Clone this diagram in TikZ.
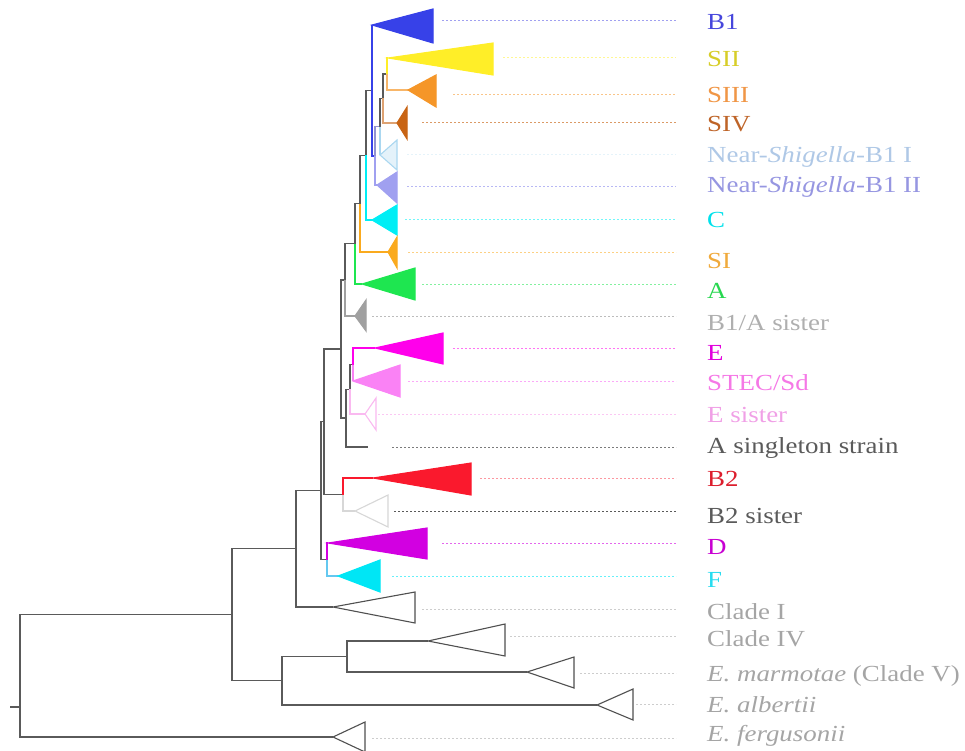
\documentclass[tikz,border=0pt]{standalone}
\usepackage{fontspec}
\setmainfont{Liberation Serif}[FakeStretch=1.17]
\definecolor{gline}{RGB}{90,90,90}
\definecolor{cBone}{RGB}{55,65,232}
\definecolor{lBone}{RGB}{70,70,220}
\definecolor{cSII}{RGB}{255,238,40}
\definecolor{lSII}{RGB}{215,205,40}
\definecolor{cSIII}{RGB}{245,150,40}
\definecolor{lSIII}{RGB}{240,150,70}
\definecolor{cSIV}{RGB}{200,100,20}
\definecolor{lSIV}{RGB}{190,100,40}
\definecolor{cNSI}{RGB}{170,215,240}
\definecolor{fNSI}{RGB}{228,242,250}
\definecolor{lNSI}{RGB}{175,200,230}
\definecolor{cNSII}{RGB}{160,160,240}
\definecolor{lNSII}{RGB}{150,150,225}
\definecolor{cC}{RGB}{0,238,245}
\definecolor{lC}{RGB}{0,225,235}
\definecolor{cSI}{RGB}{250,170,30}
\definecolor{lSI}{RGB}{240,170,60}
\definecolor{cA}{RGB}{30,230,80}
\definecolor{lA}{RGB}{40,215,80}
\definecolor{cBAs}{RGB}{160,160,160}
\definecolor{lBAs}{RGB}{175,175,175}
\definecolor{cE}{RGB}{255,0,235}
\definecolor{lE}{RGB}{225,0,220}
\definecolor{cSTEC}{RGB}{250,130,245}
\definecolor{lSTEC}{RGB}{245,120,230}
\definecolor{cEs}{RGB}{250,185,240}
\definecolor{lEs}{RGB}{240,160,230}
\definecolor{lSing}{RGB}{90,90,90}
\definecolor{cBtwo}{RGB}{250,25,45}
\definecolor{lBtwo}{RGB}{220,30,45}
\definecolor{cBtwos}{RGB}{215,215,215}
\definecolor{cD}{RGB}{210,0,225}
\definecolor{lD}{RGB}{200,0,210}
\definecolor{cF}{RGB}{0,230,245}
\definecolor{eF}{RGB}{100,200,240}
\definecolor{lF}{RGB}{40,220,240}
\definecolor{lOut}{RGB}{165,165,165}
\definecolor{cOut}{RGB}{80,80,80}
\definecolor{dOut}{RGB}{205,205,205}
\begin{document}
\begin{tikzpicture}[x=1pt,y=-1pt,
  edge/.style={line width=1.3pt, gline},
  dots/.style={line width=1pt, dash pattern=on 2pt off 2pt},
  lab/.style={anchor=base west, inner sep=0pt, font=\fontsize{23}{26}\selectfont},
  tri/.style={line width=1.1pt, line join=miter}]
\useasboundingbox (0,0) rectangle (965,751);
% ---- leaf apex coordinates
\coordinate (B1) at (372,25);
\coordinate (SII) at (388,58);
\coordinate (SIII) at (408,90);
\coordinate (SIV) at (397,123);
\coordinate (NSI) at (380,155);
\coordinate (NSII) at (377,185);
\coordinate (C) at (372,220);
\coordinate (SI) at (388,252);
\coordinate (A) at (362,284);
\coordinate (BAs) at (355,316);
\coordinate (E) at (375,348);
\coordinate (STEC) at (353,381);
\coordinate (Es) at (365,414);
\coordinate (Sing) at (368,447);
\coordinate (B2) at (373,478);
\coordinate (B2s) at (355,511);
\coordinate (D) at (328,543);
\coordinate (F) at (338,576);
\coordinate (CI) at (333,607);
\coordinate (CIV) at (428,641);
\coordinate (Marm) at (527,672);
\coordinate (Alb) at (597,705);
\coordinate (Ferg) at (333,737);
% ---- internal nodes
\coordinate (FF) at (387,74);
\coordinate (EE) at (383,98.5);
\coordinate (DD) at (380,126.75);
\coordinate (CC) at (375,156);
\coordinate (BB) at (372,90.5);
\coordinate (AA) at (366,155.25);
\coordinate (Z) at (360,203.6);
\coordinate (Y) at (355,243.8);
\coordinate (X) at (345,279.9);
\coordinate (V) at (353,364.5);
\coordinate (U) at (350,389.25);
\coordinate (T) at (346,418.1);
\coordinate (S) at (341,349);
\coordinate (Btn) at (343,494.5);
\coordinate (R) at (324,421.75);
\coordinate (DF) at (327,559.5);
\coordinate (Q) at (321,490.6);
\coordinate (P) at (296,548.8);
\coordinate (N) at (347,656.5);
\coordinate (M) at (282,680.75);
\coordinate (O) at (232,614.8);
\coordinate (Root) at (20,675.9);
\coordinate (Stub) at (10,707);
% ---- edges
\draw[edge] (Stub) -- (Stub -| Root);
\draw[edge] (Root) |- (O);
\draw[edge] (Root) |- (Ferg);
\draw[edge] (O) |- (P);
\draw[edge] (O) |- (M);
\draw[edge] (M) |- (N);
\draw[edge] (M) |- (Alb);
\draw[edge] (N) |- (CIV);
\draw[edge] (N) |- (Marm);
\draw[edge] (P) |- (Q);
\draw[edge] (P) |- (CI);
\draw[edge] (Q) |- (R);
\draw[edge] (Q) |- (DF);
\draw[edge, cD] (DF) |- (D);
\draw[edge, eF] (DF) |- (F);
\draw[edge] (R) |- (S);
\draw[edge] (R) |- (Btn);
\draw[edge, cBtwo] (Btn) |- (B2);
\draw[edge, cBtwos] (Btn) |- (B2s);
\draw[edge] (S) |- (X);
\draw[edge] (S) |- (T);
\draw[edge] (T) |- (U);
\draw[edge] (T) |- (Sing);
\draw[edge] (U) |- (V);
\draw[edge, cEs] (U) |- (Es);
\draw[edge, cE] (V) |- (E);
\draw[edge, cSTEC] (V) |- (STEC);
\draw[edge] (X) |- (Y);
\draw[edge, cBAs] (X) |- (BAs);
\draw[edge] (Y) |- (Z);
\draw[edge, cA] (Y) |- (A);
\draw[edge] (Z) |- (AA);
\draw[edge, cSI] (Z) |- (SI);
\draw[edge] (AA) |- (BB);
\draw[edge, cC] (AA) |- (C);
\draw[edge, cBone] (BB) |- (B1);
\draw[edge, cBone] (BB) |- (CC);
\draw[edge, cNSII!80!gline] (CC) |- (DD);
\draw[edge, cNSII] (CC) |- (NSII);
\draw[edge] (DD) |- (EE);
\draw[edge, cNSI] (DD) |- (NSI);
\draw[edge] (EE) |- (FF);
\draw[edge, cSIV!60!white] (EE) |- (SIV);
\draw[edge, cSII] (FF) |- (SII);
\draw[edge, cSIII!70!white] (FF) |- (SIII);
% ---- collapsed clades (triangles)
\filldraw[tri, fill=cBone, draw=cBone] (B1) -- (433,9) -- (433,43) -- cycle;
\filldraw[tri, fill=cSII, draw=cSII] (SII) -- (493,43) -- (493,75) -- cycle;
\filldraw[tri, fill=cSIII, draw=cSIII] (SIII) -- (436,75) -- (436,107) -- cycle;
\filldraw[tri, fill=cSIV, draw=cSIV] (SIV) -- (407,107) -- (407,139) -- cycle;
\filldraw[tri, fill=fNSI, draw=cNSI] (NSI) -- (397,140) -- (397,170) -- cycle;
\filldraw[tri, fill=cNSII, draw=cNSII] (NSII) -- (397,172) -- (397,203) -- cycle;
\filldraw[tri, fill=cC, draw=cC] (C) -- (397,205) -- (397,235) -- cycle;
\filldraw[tri, fill=cSI, draw=cSI] (SI) -- (397,237) -- (397,268) -- cycle;
\filldraw[tri, fill=cA, draw=cA] (A) -- (415,268) -- (415,300) -- cycle;
\filldraw[tri, fill=cBAs, draw=cBAs] (BAs) -- (366,300) -- (366,331) -- cycle;
\filldraw[tri, fill=cE, draw=cE] (E) -- (443,333) -- (443,364) -- cycle;
\filldraw[tri, fill=cSTEC, draw=cSTEC] (STEC) -- (400,365) -- (400,397) -- cycle;
\filldraw[tri, fill=white, draw=cEs] (Es) -- (376,398) -- (376,430) -- cycle;
\filldraw[tri, fill=cBtwo, draw=cBtwo] (B2) -- (471,463) -- (471,495) -- cycle;
\filldraw[tri, fill=white, draw=cBtwos] (B2s) -- (388,495) -- (388,527) -- cycle;
\filldraw[tri, fill=cD, draw=cD] (D) -- (427,528) -- (427,559) -- cycle;
\filldraw[tri, fill=cF, draw=cF] (F) -- (380,560) -- (380,592) -- cycle;
\filldraw[tri, fill=white, draw=cOut] (CI) -- (415,592) -- (415,623) -- cycle;
\filldraw[tri, fill=white, draw=cOut] (CIV) -- (505,624) -- (505,656) -- cycle;
\filldraw[tri, fill=white, draw=cOut] (Marm) -- (574,657) -- (574,688) -- cycle;
\filldraw[tri, fill=white, draw=cOut] (Alb) -- (633,689) -- (633,720) -- cycle;
\filldraw[tri, fill=white, draw=cOut] (Ferg) -- (365,722) -- (365,752) -- cycle;
% ---- dotted leader lines
\draw[dots, cNSII] (442,21) -- (676,21);
\draw[dots, cSII!50!white] (503,58) -- (676,58);
\draw[dots, cSIII!55!white] (453,95) -- (676,95);
\draw[dots, cSIV!65!white] (422,123) -- (676,123);
\draw[dots, cNSI!30!white] (407,155) -- (676,155);
\draw[dots, cNSII!75!white] (407,187) -- (676,187);
\draw[dots, cC!55!white] (405,220) -- (676,220);
\draw[dots, cSI!55!white] (408,252) -- (676,252);
\draw[dots, cA!55!white] (422,284) -- (676,284);
\draw[dots, cBAs!70!white] (372,316) -- (676,316);
\draw[dots, cE!55!white] (453,348) -- (676,348);
\draw[dots, cSTEC!70!white] (408,381) -- (676,381);
\draw[dots, cEs!80!white] (378,414) -- (676,414);
\draw[dots, gline!80!white] (392,447) -- (676,447);
\draw[dots, cBtwo!45!white] (480,478) -- (676,478);
\draw[dots, gline] (394,511) -- (676,511);
\draw[dots, cD!60!white] (442,543) -- (676,543);
\draw[dots, cF!60!white] (392,576) -- (676,576);
\draw[dots, dOut] (422,609) -- (676,609);
\draw[dots, dOut] (510,636) -- (676,636);
\draw[dots, dOut] (580,673) -- (676,673);
\draw[dots, dOut] (636,704) -- (676,704);
\draw[dots, dOut] (372,738) -- (676,738);
% ---- labels
\node[lab, text=lBone] (tB1) at (707,30) {B1};
\node[lab, text=lSII] (tSII) at (707,67) {SII};
\node[lab, text=lSIII] (tSIII) at (707,103) {SIII};
\node[lab, text=lSIV] (tSIV) at (707,132) {SIV};
\node[lab, text=lNSI] (tNSI) at (707,163) {Near-\textit{Shigella}-B1 I};
\node[lab, text=lNSII] (tNSII) at (707,193) {Near-\textit{Shigella}-B1 II};
\node[lab, text=lC] (tC) at (707,228) {C};
\node[lab, text=lSI] (tSI) at (707,268) {SI};
\node[lab, text=lA] (tA) at (707,298) {A};
\node[lab, text=lBAs] (tBAs) at (707,330) {B1/A sister};
\node[lab, text=lE] (tE) at (707,360) {E};
\node[lab, text=lSTEC] (tSTEC) at (707,390) {STEC/Sd};
\node[lab, text=lEs] (tEs) at (707,422) {E sister};
\node[lab, text=lSing] (tSing) at (707,453) {A singleton strain};
\node[lab, text=lBtwo] (tB2) at (707,486) {B2};
\node[lab, text=lSing] (tB2s) at (707,523) {B2 sister};
\node[lab, text=lD] (tD) at (707,554) {D};
\node[lab, text=lF] (tF) at (707,587) {F};
\node[lab, text=lOut] (tCI) at (707,619) {Clade I};
\node[lab, text=lOut] (tCIV) at (707,646) {Clade IV};
\node[lab, text=lOut] (tMarm) at (707,681) {\textit{E. marmotae} (Clade V)};
\node[lab, text=lOut] (tAlb) at (707,712) {\textit{E. albertii}};
\node[lab, text=lOut] (tFerg) at (707,741) {\textit{E. fergusonii}};
\end{tikzpicture}
\end{document}
